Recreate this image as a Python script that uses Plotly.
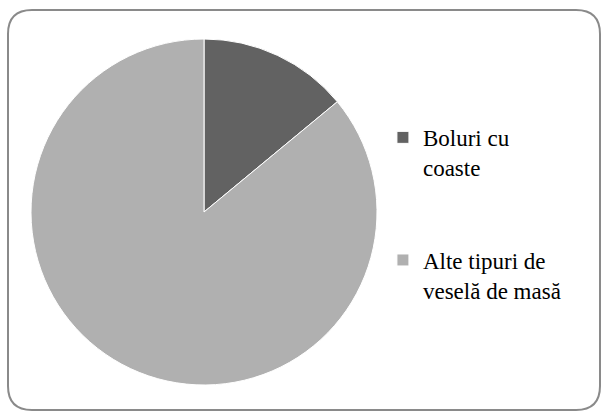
import plotly.graph_objects as go

labels = ["Boluri cu<br>coaste<br> <br> ", "Alte tipuri de<br>veselă de masă"]
values = [14, 86]
colors = ["#626262", "#b0b0b0"]

W, H = 604, 414

fig = go.Figure()

fig.add_trace(
    go.Pie(
        labels=labels,
        values=values,
        sort=False,
        direction="clockwise",
        rotation=0,
        textinfo="none",
        hoverinfo="label+percent",
        marker=dict(colors=colors, line=dict(color="#ffffff", width=1)),
        domain=dict(x=[31 / W, 377 / W], y=[(H - 385) / H, (H - 39) / H]),
    )
)

# rounded chart border
x0, y0, x1, y1, r = 8 / W, (H - 410) / H, 600 / W, (H - 10) / H, 24
rx, ry = r / W, r / H
path = (
    f"M {x0 + rx},{y1} L {x1 - rx},{y1} Q {x1},{y1} {x1},{y1 - ry} "
    f"L {x1},{y0 + ry} Q {x1},{y0} {x1 - rx},{y0} "
    f"L {x0 + rx},{y0} Q {x0},{y0} {x0},{y0 + ry} "
    f"L {x0},{y1 - ry} Q {x0},{y1} {x0 + rx},{y1} Z"
)
fig.add_shape(type="path", path=path, xref="paper", yref="paper",
              line=dict(color="#8a8a8a", width=2))

fig.update_layout(
    width=W,
    height=H,
    margin=dict(t=0, b=0, l=0, r=0),
    paper_bgcolor="#ffffff",
    plot_bgcolor="#ffffff",
    showlegend=True,
    legend=dict(
        x=0.634,
        y=0.72,
        xanchor="left",
        yanchor="top",
        valign="top",
        font=dict(family="Liberation Serif", size=23, color="#000000"),
        itemwidth=30,
        bgcolor="rgba(0,0,0,0)",
    ),
)

fig.write_html(
    "out.html",
    config={"displayModeBar": False},
    post_script="document.body.style.margin='0px';",
)
